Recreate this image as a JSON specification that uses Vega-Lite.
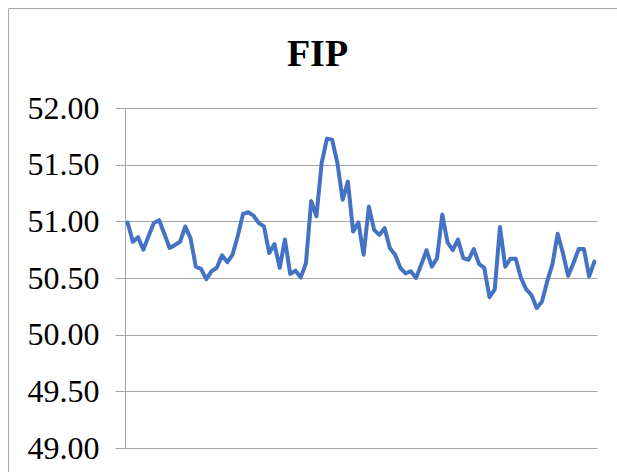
{
  "$schema": "https://vega.github.io/schema/vega-lite/v6.json",
  "width": 609,
  "height": 464,
  "autosize": {"type": "none"},
  "padding": {"left": 8, "top": 8, "right": 0, "bottom": 0},
  "background": "white",
  "config": {"view": {"stroke": null}},
  "title": {"text": "FIP", "font": "Liberation Serif", "fontSize": 38, "fontWeight": "bold", "color": "black", "anchor": "middle", "frame": "group", "offset": -96, "baseline": "alphabetic", "dx": 5},
  "data": {"values": [
    {"i":0,"v":50.99},{"i":1,"v":50.82},{"i":2,"v":50.86},{"i":3,"v":50.75},{"i":4,"v":50.87},
    {"i":5,"v":50.985},{"i":6,"v":51.01},{"i":7,"v":50.89},{"i":8,"v":50.765},{"i":9,"v":50.79},
    {"i":10,"v":50.82},{"i":11,"v":50.955},{"i":12,"v":50.85},{"i":13,"v":50.60},{"i":14,"v":50.58},
    {"i":15,"v":50.49},{"i":16,"v":50.56},{"i":17,"v":50.59},{"i":18,"v":50.70},{"i":19,"v":50.64},
    {"i":20,"v":50.705},{"i":21,"v":50.87},{"i":22,"v":51.065},{"i":23,"v":51.08},{"i":24,"v":51.05},
    {"i":25,"v":50.985},{"i":26,"v":50.955},{"i":27,"v":50.72},{"i":28,"v":50.80},{"i":29,"v":50.59},
    {"i":30,"v":50.84},{"i":31,"v":50.535},{"i":32,"v":50.565},{"i":33,"v":50.505},{"i":34,"v":50.63},
    {"i":35,"v":51.18},{"i":36,"v":51.045},{"i":37,"v":51.515},{"i":38,"v":51.73},{"i":39,"v":51.72},
    {"i":40,"v":51.515},{"i":41,"v":51.19},{"i":42,"v":51.35},{"i":43,"v":50.91},{"i":44,"v":50.99},
    {"i":45,"v":50.705},{"i":46,"v":51.13},{"i":47,"v":50.925},{"i":48,"v":50.88},{"i":49,"v":50.94},
    {"i":50,"v":50.765},{"i":51,"v":50.705},{"i":52,"v":50.59},{"i":53,"v":50.54},{"i":54,"v":50.56},
    {"i":55,"v":50.50},{"i":56,"v":50.62},{"i":57,"v":50.745},{"i":58,"v":50.60},{"i":59,"v":50.675},
    {"i":60,"v":51.06},{"i":61,"v":50.815},{"i":62,"v":50.745},{"i":63,"v":50.84},{"i":64,"v":50.675},
    {"i":65,"v":50.66},{"i":66,"v":50.755},{"i":67,"v":50.625},{"i":68,"v":50.59},{"i":69,"v":50.33},
    {"i":70,"v":50.40},{"i":71,"v":50.95},{"i":72,"v":50.60},{"i":73,"v":50.67},{"i":74,"v":50.67},
    {"i":75,"v":50.50},{"i":76,"v":50.40},{"i":77,"v":50.35},{"i":78,"v":50.235},{"i":79,"v":50.29},
    {"i":80,"v":50.47},{"i":81,"v":50.62},{"i":82,"v":50.89},{"i":83,"v":50.72},{"i":84,"v":50.52},
    {"i":85,"v":50.63},{"i":86,"v":50.755},{"i":87,"v":50.755},{"i":88,"v":50.515},{"i":89,"v":50.645}
  ]},
  "layer": [
    {
      "mark": {"type": "line", "color": "#4472C4", "strokeWidth": 4, "strokeJoin": "round", "strokeCap": "round"},
      "encoding": {
        "x": {"field": "i", "type": "quantitative", "scale": {"domain": [-0.5, 89.5], "range": [117, 589], "nice": false, "zero": false}, "axis": null},
        "y": {"field": "v", "type": "quantitative",
          "scale": {"domain": [49, 52], "range": [440, 100], "nice": false, "zero": false},
          "axis": {"values": [49, 49.5, 50, 50.5, 51, 51.5, 52], "format": ".2f", "title": null, "offset": -117,
            "grid": true, "gridColor": "#a6a6a6", "gridWidth": 1, "gridOpacity": 1,
            "domain": true, "domainColor": "#a6a6a6", "domainWidth": 1,
            "ticks": true, "tickColor": "#a6a6a6", "tickSize": 10, "tickWidth": 1,
            "labelFont": "Liberation Serif", "labelFontSize": 32, "labelColor": "black", "labelPadding": 16,
            "labelBaseline": "middle", "labelFlush": false, "labelOverlap": false}
        }
      }
    },
    {
      "mark": {"type": "point", "opacity": 0},
      "encoding": {
        "x": {"field": "i", "type": "quantitative", "axis": {"orient": "top", "domain": true, "domainColor": "#a8a8a8", "domainWidth": 1, "domainOpacity": 1, "ticks": false, "labels": false, "grid": false, "title": null}},
        "y": {"field": "v", "type": "quantitative", "axis": {"orient": "left", "domain": true, "domainColor": "#a8a8a8", "domainWidth": 1, "domainOpacity": 1, "ticks": false, "labels": false, "grid": false, "title": null}}
      }
    }
  ],
  "resolve": {"scale": {"x": "independent", "y": "independent"}, "axis": {"x": "independent", "y": "independent"}}
}
